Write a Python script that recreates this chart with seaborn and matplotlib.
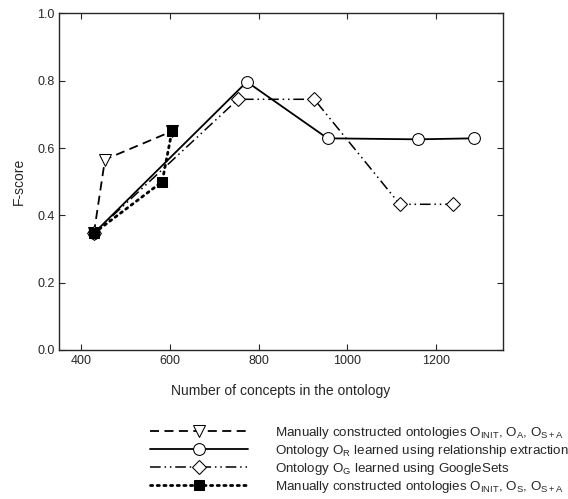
import matplotlib
matplotlib.use("Agg")
import matplotlib.pyplot as plt
import seaborn as sns

# Data
x_manual_a = [428, 453, 604]
y_manual_a = [0.347, 0.566, 0.650]
x_relation = [428, 773, 955, 1158, 1286]
y_relation = [0.347, 0.797, 0.629, 0.626, 0.629]
x_google = [428, 753, 925, 1118, 1238]
y_google = [0.347, 0.745, 0.745, 0.433, 0.433]
x_manual_s = [428, 582, 604]
y_manual_s = [0.347, 0.500, 0.650]

labels = [
    r"Manually constructed ontologies O$_{\mathrm{INIT}}$, O$_{\mathrm{A}}$, O$_{\mathrm{S+A}}$",
    r"Ontology O$_{\mathrm{R}}$ learned using relationship extraction",
    r"Ontology O$_{\mathrm{G}}$ learned using GoogleSets",
    r"Manually constructed ontologies O$_{\mathrm{INIT}}$, O$_{\mathrm{S}}$, O$_{\mathrm{S+A}}$",
]
xticks = [400, 600, 800, 1000, 1200]
yticks = [0.0, 0.2, 0.4, 0.6, 0.8, 1.0]

sns.set_style("ticks")
plt.rcParams['font.family'] = ['Liberation Sans', 'DejaVu Sans']
plt.rcParams['mathtext.fontset'] = 'custom'
plt.rcParams['mathtext.rm'] = 'Liberation Sans'
plt.rcParams['mathtext.it'] = 'Liberation Sans'

fig = plt.figure(figsize=(5.68, 4.99), dpi=100)
ax = fig.add_axes([0.1044, 0.2986, 0.7806, 0.6744])

common = dict(color='black', markeredgecolor='black', sort=False, estimator=None, ax=ax)

sns.lineplot(x=x_manual_a, y=y_manual_a, marker='v', markersize=8, markerfacecolor='white',
             linestyle=(0, (5, 3)), linewidth=1.3, label=labels[0], **common)
sns.lineplot(x=x_relation, y=y_relation, marker='o', markersize=8.5, markerfacecolor='white',
             linestyle='-', linewidth=1.3, label=labels[1], **common)
sns.lineplot(x=x_google, y=y_google, marker='D', markersize=7.5, markerfacecolor='white',
             linestyle=(0, (7, 2.5, 1, 2.5, 1, 2.5)), linewidth=1.1, label=labels[2], **common)
sns.lineplot(x=x_manual_s, y=y_manual_s, marker='s', markersize=7.5, markerfacecolor='black',
             linestyle=(0, (0.8, 1.6)), linewidth=2, dash_capstyle='round', label=labels[3], **common)

ax.set_xlim(350, 1350)
ax.set_ylim(0, 1.0)
ax.set_xticks(xticks)
ax.set_yticks(yticks)
ax.set_yticklabels([f"{v:.1f}" for v in yticks])
ax.tick_params(direction='in', top=True, right=True, labelsize=9, length=4, width=0.8)
for s in ax.spines.values():
    s.set_linewidth(1.0)
ax.set_xlabel("Number of concepts in the ontology", fontsize=10, labelpad=12)
ax.set_ylabel("F-score", fontsize=10, labelpad=8)

handles = ax.get_lines()[:4]
ax.get_legend().remove()
fig.legend(handles, labels, loc='upper left', bbox_to_anchor=(150 / 568, 1 - 425 / 499),
           frameon=False, fontsize=9.6, handlelength=7.35, handletextpad=2.0,
           borderpad=0, borderaxespad=0, labelspacing=0.15, numpoints=1)

fig.savefig("out.png", dpi=100)
